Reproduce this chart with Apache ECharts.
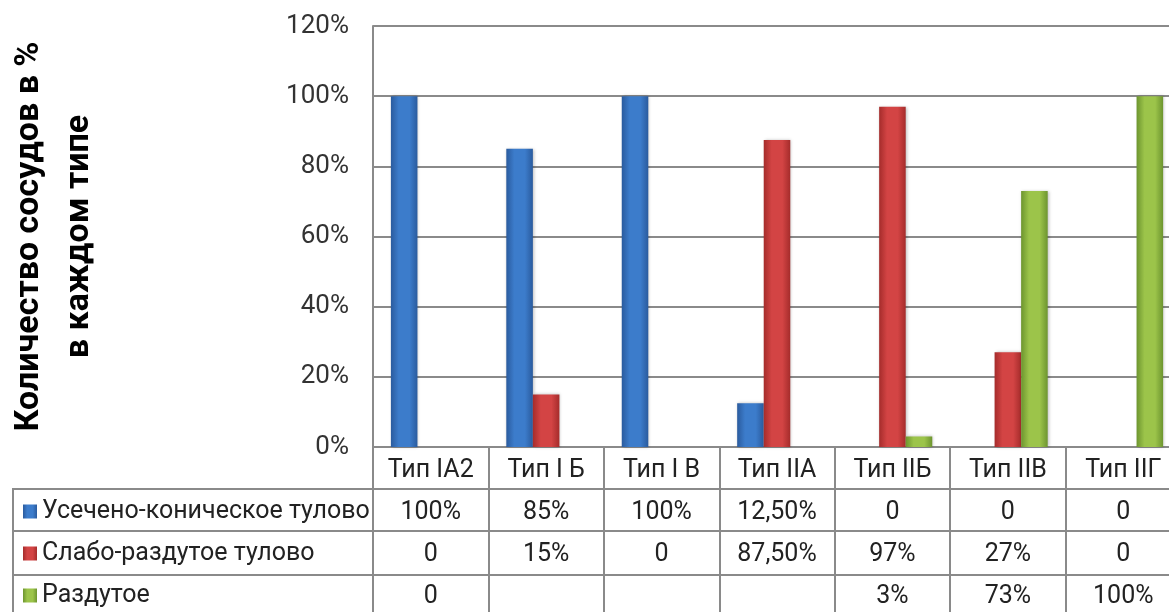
<!DOCTYPE html>
<html>
<head>
<meta charset="utf-8">
<script src="https://cdn.jsdelivr.net/npm/echarts@6/dist/echarts.min.js"></script>
<style>
  html, body { margin: 0; padding: 0; background: #fff; }
  #main { width: 1169px; height: 612px; }
</style>
</head>
<body>
<div id="main"></div>
<script>
// categories and series
var categories = ['Тип IA2', 'Тип I Б', 'Тип I В', 'Тип IIА', 'Тип IIБ', 'Тип IIВ', 'Тип IIГ'];
var seriesNames = ['Усечено-коническое тулово', 'Слабо-раздутое тулово', 'Раздутое'];
var truncated = [1, 0.85, 1, 0.125, 0, 0, 0];
var slightly = [0, 0.15, 0, 0.875, 0.97, 0.27, 0];
var swollen = [0, null, null, null, 0.03, 0.73, 1];
var yTicks = [0, 0.2, 0.4, 0.6, 0.8, 1, 1.2];

var FONT = 'Roboto';
var GRAY = '#8a8a8a';

// table cell text like excel shows it
function cell(v) {
    if (v === null || v === undefined) return '';
    if (v === 0) return '0';
    var p = Math.round(v * 10000) / 100;
    if (p % 1 === 0) return p + '%';
    return p.toFixed(2).replace('.', ',') + '%';
}

function grad(dark, mid) {
    return new echarts.graphic.LinearGradient(0, 0, 1, 0, [
        { offset: 0, color: dark },
        { offset: 0.3, color: mid },
        { offset: 0.7, color: mid },
        { offset: 1, color: dark }
    ]);
}

var myChart = echarts.init(document.getElementById('main'));

var option = {
    animation: false,
    textStyle: { fontFamily: FONT },
    grid: { left: 373, right: -12, top: 26, bottom: 165, containLabel: false, outerBoundsMode: 'none' },
    legend: {
        orient: 'vertical',
        left: 23,
        top: 499,
        height: 160,
        padding: 0,
        itemWidth: 14,
        itemHeight: 14,
        itemGap: 17,
        icon: 'rect',
        selectedMode: false,
        textStyle: { fontFamily: FONT, fontSize: 25, lineHeight: 24, color: '#222' },
        data: seriesNames
    },
    xAxis: {
        type: 'category',
        data: categories,
        axisLine: { lineStyle: { color: GRAY, width: 2 } },
        axisTick: { show: true, interval: 0, length: 200, lineStyle: { color: GRAY, width: 2 } },
        axisLabel: {
            interval: 0,
            margin: 3,
            fontFamily: FONT,
            fontSize: 25,
            lineHeight: 42,
            color: '#222',
            formatter: function (value, i) {
                return [value, cell(truncated[i]), cell(slightly[i]), cell(swollen[i])].join('\n');
            }
        }
    },
    yAxis: {
        type: 'value',
        min: yTicks[0],
        max: yTicks[yTicks.length - 1],
        interval: 0.2,
        name: 'Количество сосудов в %\nв каждом типе',
        nameLocation: 'middle',
        nameRotate: 90,
        nameGap: 269,
        nameTextStyle: { fontFamily: FONT, fontSize: 34, fontWeight: 'bold', lineHeight: 50, color: '#000' },
        axisLine: { show: true, lineStyle: { color: GRAY, width: 2 } },
        axisTick: { show: false },
        splitLine: { lineStyle: { color: GRAY, width: 2 } },
        axisLabel: {
            margin: 24,
            fontFamily: FONT,
            fontSize: 26,
            color: '#333',
            formatter: function (v) { return Math.round(v * 100) + '%'; }
        }
    },
    series: [{
        name: seriesNames[0],
        type: 'bar',
        data: truncated,
        barGap: 0,
        barCategoryGap: '31%',
        itemStyle: { color: grad('#2a5b9e', '#3c7ccb'), shadowColor: 'rgba(0,0,0,0.25)', shadowBlur: 3, shadowOffsetX: 1 }
    }, {
        name: seriesNames[1],
        type: 'bar',
        data: slightly,
        barGap: 0,
        barCategoryGap: '31%',
        itemStyle: { color: grad('#a52c2b', '#d34444'), shadowColor: 'rgba(0,0,0,0.25)', shadowBlur: 3, shadowOffsetX: 1 }
    }, {
        name: seriesNames[2],
        type: 'bar',
        data: swollen,
        barGap: 0,
        barCategoryGap: '31%',
        itemStyle: { color: grad('#6d952f', '#9cc44a'), shadowColor: 'rgba(0,0,0,0.25)', shadowBlur: 3, shadowOffsetX: 1 }
    }],
    graphic: [
        // rows of the data table below the header
        { type: 'line', shape: { x1: 13, y1: 489, x2: 1169, y2: 489 }, style: { stroke: GRAY, lineWidth: 2 } },
        { type: 'line', shape: { x1: 13, y1: 531, x2: 1169, y2: 531 }, style: { stroke: GRAY, lineWidth: 2 } },
        { type: 'line', shape: { x1: 13, y1: 575, x2: 1169, y2: 575 }, style: { stroke: GRAY, lineWidth: 2 } },
        { type: 'line', shape: { x1: 13, y1: 488, x2: 13, y2: 612 }, style: { stroke: GRAY, lineWidth: 2 } }
    ]
};

myChart.setOption(option);
</script>
</body>
</html>
